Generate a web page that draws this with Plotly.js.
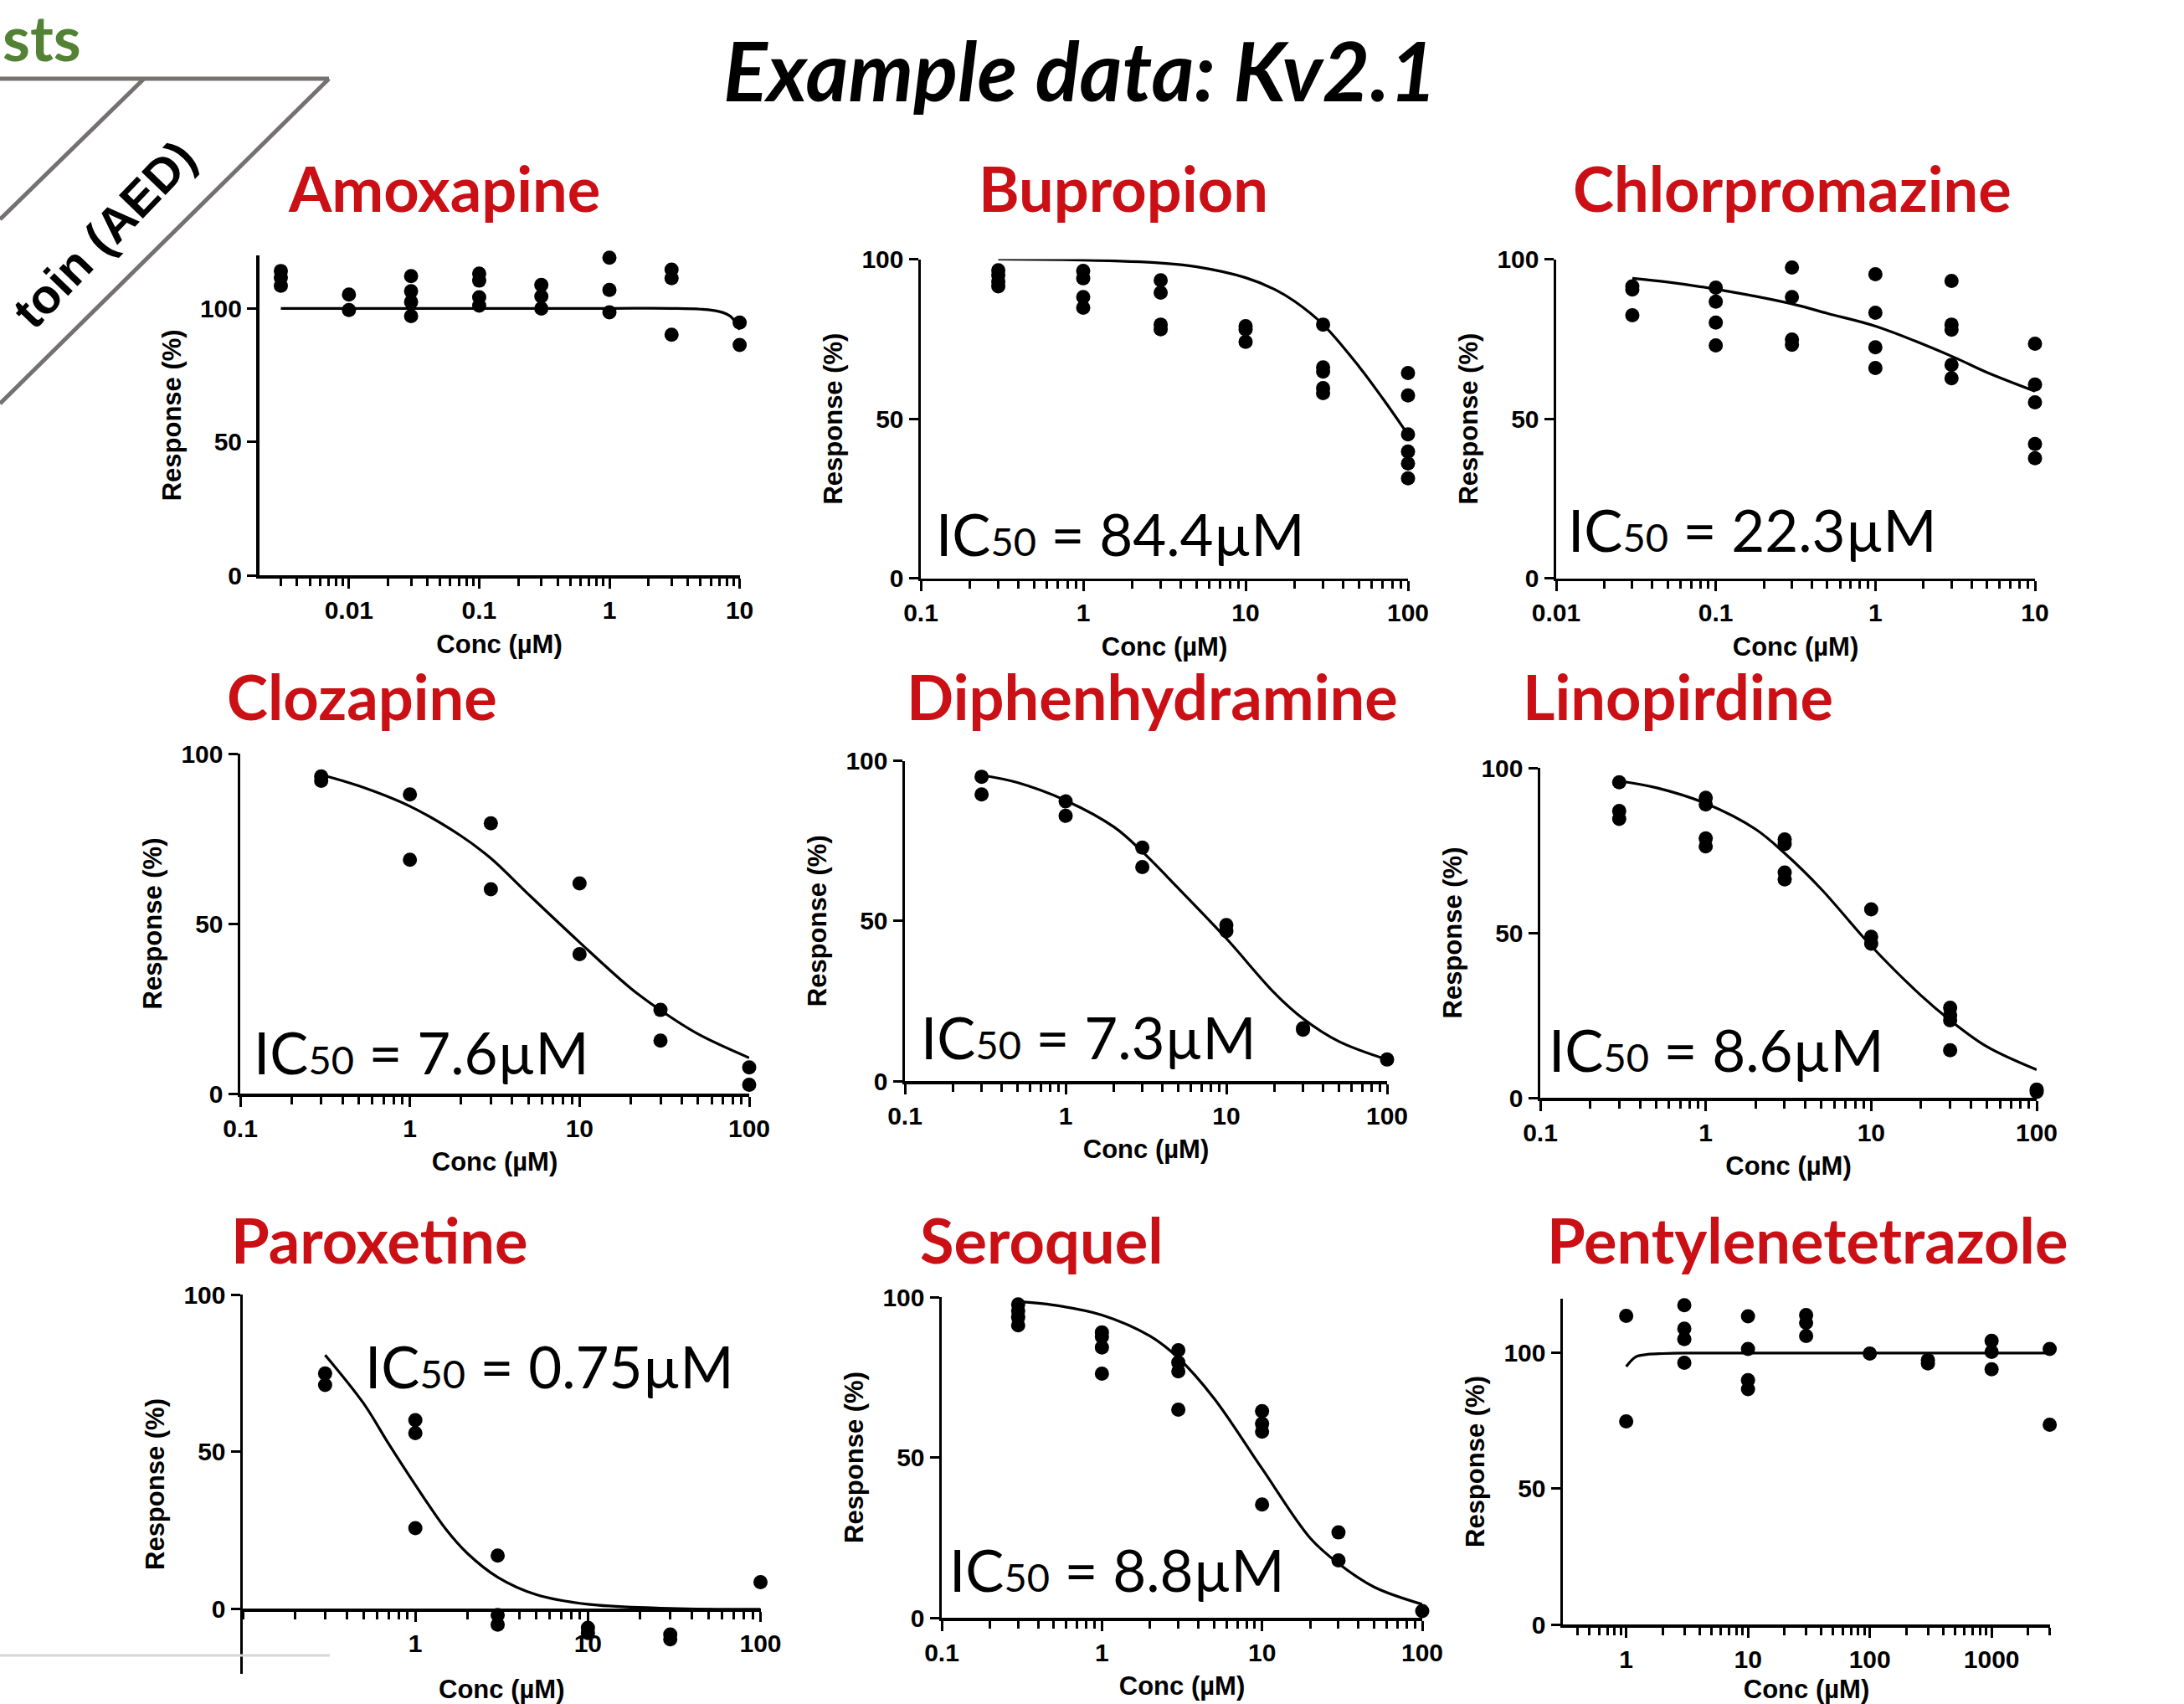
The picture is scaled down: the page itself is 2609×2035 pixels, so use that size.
<!DOCTYPE html>
<html><head><meta charset="utf-8">
<script src="https://cdn.plot.ly/plotly-3.0.1.min.js"></script>
<style>html,body{margin:0;padding:0;background:#fff;}#chart{width:2609px;height:2035px;}</style>
</head><body><div id="chart"></div>
<script>
// ---------- DATA ----------
const amoxConc = [0.003,0.003,0.003, 0.01,0.01, 0.03,0.03,0.03,0.03, 0.1,0.1,0.1,0.1, 0.3,0.3,0.3, 1,1,1, 3,3,3, 10,10];
const amoxResp = [114,111.5,108.5, 105.2,99.4, 112.1,106.4,102.4,97.1, 113,110.4,104.2,101, 108.8,104.5,99.9, 119,106.9,98.5, 114.5,111.3,90.1, 94.7,86.3];
const amoxFitConc = [0.003,0.01,0.1,1,3,5,7,8.5,10];
const amoxFitResp = [100,100,100,100,100,99.7,98.8,97,92];

const bupConc = [0.3,0.3,0.3,0.3, 1,1,1,1, 3,3,3,3, 10,10,10, 30,30,30,30,30, 100,100,100,100,100,100];
const bupResp = [96.5,95,93,91.5, 96.3,94,88.1,84.8, 93.4,89.5,79.5,78, 79,78,74.1, 79.5,66.1,64.8,59.6,58, 64.3,57.3,45.1,39.7,36,31.3];
const bupFitConc = [0.3,1,3,5,10,15,20,30,50,70,100];
const bupFitResp = [100,99.7,98.8,97.6,94.2,90.6,86.8,79.5,66.3,56.3,45];

const chlConc = [0.03,0.03,0.03, 0.1,0.1,0.1,0.1, 0.3,0.3,0.3,0.3, 1,1,1,1, 3,3,3,3,3, 10,10,10,10,10];
const chlResp = [91.5,90.5,82.4, 91.1,86.7,80.1,73, 97.4,88.1,74.8,73.2, 95.3,83.2,72.4,65.9, 93.2,79.5,77.9,66.9,62.7, 73.5,60.7,55.1,42.1,37.6];
const chlFitConc = [0.03,0.05,0.1,0.3,0.5,1,3,5,10];
const chlFitResp = [94,92.8,90.6,86,83,79,69.6,64.5,58.6];

const cloConc = [0.3,0.3, 1,1, 3,3, 10,10, 30,30, 100,100];
const cloResp = [93.3,92, 88,68.8, 79.5,60.1, 61.8,41, 24.6,15.6, 7.7,2.6];
const cloFitConc = [0.3,0.5,1,2,3,5,10,20,30,50,100];
const cloFitResp = [93.8,90.5,84.5,75.8,69.2,58.6,44.5,31,24.5,17.5,10.5];

const dipConc = [0.3,0.3, 1,1, 3,3, 10,10, 30,30, 100];
const dipResp = [95,89.5, 87.3,82.8, 72.9,66.8, 48.7,46.8, 16.5,16, 6.7];
const dipFitConc = [0.3,0.5,1,2,3,5,10,20,30,50,100];
const dipFitResp = [95.5,93.2,87.6,79.3,71.6,60.3,44.5,27.4,19.5,12.4,6.7];

const linConc = [0.3,0.3,0.3, 1,1,1,1, 3,3,3,3, 10,10,10, 30,30,30,30, 100,100];
const linResp = [95.6,86.9,84.5, 90.9,88.9,78.6,76.2, 78.3,76.9,68.3,66.2, 57.1,48.8,46.7, 27.3,25,23.5,14.4, 2.5,1.8];
const linFitConc = [0.3,0.5,1,2,3,5,10,20,30,50,100];
const linFitResp = [96,94,89.2,81.4,74.1,63.2,46,31,23.5,15.5,8.5];

const parConc = [0.3,0.3, 1,1,1, 3,3,3, 10,10, 30,30, 100];
const parResp = [74.9,71.3, 60.1,56,25.8, 17.1,-1.8,-4.9, -5.9,-7.5, -8,-9.5, 8.6];
const parFitConc = [0.3,0.5,0.7,1,1.5,2,3,5,10,30,100];
const parFitResp = [80.8,65.5,52.6,39.5,25.5,17.8,10.2,4.7,1.6,0.3,0];

const serConc = [0.3,0.3,0.3,0.3, 1,1,1,1, 3,3,3,3, 10,10,10,10, 30,30, 100];
const serResp = [97.7,95.7,93.7,91.2, 89,87.6,84.3,76.1, 83.4,79.6,76.8,64.9, 64.4,60.5,58,35.3, 26.6,17.9, 2.1];
const serFitConc = [0.3,0.5,1,2,3,5,10,20,30,50,100];
const serFitResp = [98.6,97.5,94.4,87.8,81,68.5,46.5,24.8,16.9,9.6,4.2];

const penConc = [1,1, 3,3,3,3, 10,10,10,10, 30,30,30, 100, 300,300, 1000,1000,1000, 3000,3000];
const penResp = [113.7,74.8, 117.6,109,105.1,96.4, 113.5,101.5,90,86.7, 114,111.1,106.3, 99.8, 97.4,96.2, 104.5,100.4,94, 101.5,73.6];
const penFitConc = [1,1.2,1.5,2,3,10,100,1000,3000];
const penFitResp = [95,98.6,99.5,99.8,100,100,100,100,100];

const drugNames = ['Amoxapine','Bupropion','Chlorpromazine','Clozapine','Diphenhydramine','Linopirdine','Paroxetine','Seroquel','Pentylenetetrazole'];
const ic50Labels = [null,'84.4','22.3','7.6','7.3','8.6','0.75','8.8',null];

const tickAmox = [0.01,0.1,1,10];
const tickAmoxText = ['0.01','0.1','1','10'];
const tickDec = [0.1,1,10,100];
const tickDecText = ['0.1','1','10','100'];
const tickPar = [1,10,100];
const tickParText = ['1','10','100'];
const tickPen = [1,10,100,1000];
const tickPenText = ['1','10','100','1000'];
const respTicks = [0,50,100];
const respTickText = ['0','50','100'];

const mainTitle = 'Example data: Kv2.1';
const xTitle = 'Conc (µM)';
const yTitle = 'Response (%)';

// ---------- LAYOUT (pixel geometry of the page) ----------
const W = 2609, H = 2035;
const fx = p => p / W;
const fy = p => 1 - p / H;
const RED = '#CA0F15';
const IC_SIZE = 69;

const panels = [
  {conc:amoxConc, resp:amoxResp, fc:amoxFitConc, fr:amoxFitResp, x0:309.5, x1:883.6, yt:304.5, yb:687.2, xr:[-2.69,1], yr:[0,120], tv:tickAmox, tt:tickAmoxText, tx:530, tb:253},
  {conc:bupConc, resp:bupResp, fc:bupFitConc, fr:bupFitResp, x0:1100, x1:1682, yt:309.5, yb:690.6, xr:[-1,2], yr:[0,100], tv:tickDec, tt:tickDecText, tx:1342, tb:253, icx:1120, icb:662},
  {conc:chlConc, resp:chlResp, fc:chlFitConc, fr:chlFitResp, x0:1859, x1:2431, yt:309.5, yb:690.6, xr:[-2,1], yr:[0,100], tv:tickAmox, tt:tickAmoxText, tx:2141, tb:253, icx:1875, icb:657},
  {conc:cloConc, resp:cloResp, fc:cloFitConc, fr:cloFitResp, x0:287, x1:895, yt:900, yb:1306, xr:[-1,2], yr:[0,100], tv:tickDec, tt:tickDecText, tx:432, tb:860, icx:305, icb:1281},
  {conc:dipConc, resp:dipResp, fc:dipFitConc, fr:dipFitResp, x0:1081, x1:1657, yt:908.5, yb:1291, xr:[-1,2], yr:[0,100], tv:tickDec, tt:tickDecText, tx:1376, tb:860, icx:1102, icb:1263},
  {conc:linConc, resp:linResp, fc:linFitConc, fr:linFitResp, x0:1840, x1:2433, yt:917, yb:1311, xr:[-1,2], yr:[0,100], tv:tickDec, tt:tickDecText, tx:2004, tb:860, icx:1852, icb:1278},
  {conc:parConc, resp:parResp, fc:parFitConc, fr:parFitResp, x0:290, x1:908.5, yt:1546, yb:1999, xr:[-1,2], yr:[-20.5,100], tv:tickPar, tt:tickParText, tx:453, tb:1509, icx:438, icb:1656, xAxisPx:1922, xStand:32},
  {conc:serConc, resp:serResp, fc:serFitConc, fr:serFitResp, x0:1125, x1:1699, yt:1549, yb:1932, xr:[-1,2], yr:[0,100], tv:tickDec, tt:tickDecText, tx:1244, tb:1509, icx:1136, icb:1899},
  {conc:penConc, resp:penResp, fc:penFitConc, fr:penFitResp, x0:1867, x1:2449, yt:1551, yb:1940, xr:[-0.52,3.48], yr:[0,120], tv:tickPen, tt:tickPenText, tx:2159, tb:1509}
];

const tickFont = {family:'Liberation Sans, Arial, sans-serif', size:30, color:'#000', weight:700};
const axTitleFont = {family:'Liberation Sans, Arial, sans-serif', size:31, color:'#000', weight:700};

const traces = [];
const layout = {
  width: W, height: H, autosize: false,
  margin: {l:0, r:0, t:0, b:0},
  paper_bgcolor: '#fff', plot_bgcolor: 'rgba(0,0,0,0)',
  showlegend: false,
  annotations: [], shapes: []
};

panels.forEach((p, i) => {
  const n = i + 1;
  const xa = 'x' + (n === 1 ? '' : n), ya = 'y' + (n === 1 ? '' : n);
  const xk = 'xaxis' + (n === 1 ? '' : n), yk = 'yaxis' + (n === 1 ? '' : n);
  traces.push({x:p.fc, y:p.fr, xaxis:xa, yaxis:ya, type:'scatter', mode:'lines',
    line:{color:'#000', width:3.2, shape:'spline', smoothing:1}, cliponaxis:false, hoverinfo:'skip'});
  traces.push({x:p.conc, y:p.resp, xaxis:xa, yaxis:ya, type:'scatter', mode:'markers',
    marker:{color:'#000', size:17}, cliponaxis:false});
  const xaxis = {
    type:'log', domain:[fx(p.x0), fx(p.x1)], range:p.xr, anchor:ya,
    tickmode:'array', tickvals:p.tv, ticktext:p.tt,
    ticks:'outside', ticklen:12, tickwidth:3, tickcolor:'#000',
    minor:{ticks:'outside', ticklen:9, tickwidth:3, tickcolor:'#000', dtick:'D1', showgrid:false},
    showline:true, linecolor:'#000', linewidth:3.5, showgrid:false, zeroline:false,
    tickfont:tickFont,
    title:{text:xTitle, font:axTitleFont, standoff:(p.xStand || 15)}
  };
  if (p.xAxisPx) { xaxis.anchor = 'free'; xaxis.position = fy(p.xAxisPx); }
  layout[xk] = xaxis;
  layout[yk] = {
    domain:[fy(p.yb), fy(p.yt)], range:p.yr, anchor:xa,
    tickmode:'array', tickvals:respTicks, ticktext:respTickText,
    ticks:'outside', ticklen:11, tickwidth:3, tickcolor:'#000',
    showline:true, linecolor:'#000', linewidth:3.5, showgrid:false, zeroline:false,
    tickfont:tickFont,
    title:{text:yTitle, font:axTitleFont, standoff:14}
  };
  // drug title
  layout.annotations.push({xref:'paper', yref:'paper', x:fx(p.tx), y:fy(p.tb - 0.387*74),
    xanchor:'center', yanchor:'middle', showarrow:false, text:'<b>' + drugNames[i] + '</b>',
    font:{family:'Lato, sans-serif', size:74, color:RED}});
  if (ic50Labels[i]) {
    layout.annotations.push({xref:'paper', yref:'paper', x:fx(p.icx - 4), y:fy(p.icb - 0.987*IC_SIZE),
      xanchor:'left', yanchor:'top', showarrow:false,
      text:'IC<span style="font-size:' + Math.round(IC_SIZE*0.68) + 'px">50</span> = ' + ic50Labels[i] + 'µM',
      font:{family:'Lato, sans-serif', size:IC_SIZE, color:'#000'}});
  }
});

// main title
layout.annotations.push({xref:'paper', yref:'paper', x:fx(1290), y:fy(121 - 0.387*98),
  xanchor:'center', yanchor:'middle', showarrow:false, text:'<b><i>' + mainTitle + '</i></b>',
  font:{family:'Lato, sans-serif', size:98, color:'#000'}});
// top-left banner remnants
layout.annotations.push({xref:'paper', yref:'paper', x:fx(1), y:fy(73 - 0.387*75),
  xanchor:'left', yanchor:'middle', showarrow:false, text:'<b>sts</b>',
  font:{family:'Lato, sans-serif', size:75, color:'#548235'}});
layout.annotations.push({xref:'paper', yref:'paper', x:fx(124), y:fy(279),
  xanchor:'center', yanchor:'middle', showarrow:false, text:'<b>toin (AED)</b>', textangle:-46,
  font:{family:'Liberation Sans, Arial, sans-serif', size:58, color:'#000'}});

const grey = '#767171';
layout.shapes.push(
  {type:'line', xref:'paper', yref:'paper', x0:fx(0), y0:fy(94), x1:fx(393), y1:fy(94), line:{color:grey, width:5}},
  {type:'line', xref:'paper', yref:'paper', x0:fx(172), y0:fy(94), x1:fx(0), y1:fy(262), line:{color:grey, width:5}},
  {type:'line', xref:'paper', yref:'paper', x0:fx(393), y0:fy(94), x1:fx(0), y1:fy(482), line:{color:grey, width:5}},
  {type:'line', xref:'paper', yref:'paper', x0:fx(0), y0:fy(1977), x1:fx(394), y1:fy(1977), line:{color:'#D6D6D6', width:3}}
);

Plotly.newPlot('chart', traces, layout, {staticPlot:true, displayModeBar:false});
</script>
</body></html>
